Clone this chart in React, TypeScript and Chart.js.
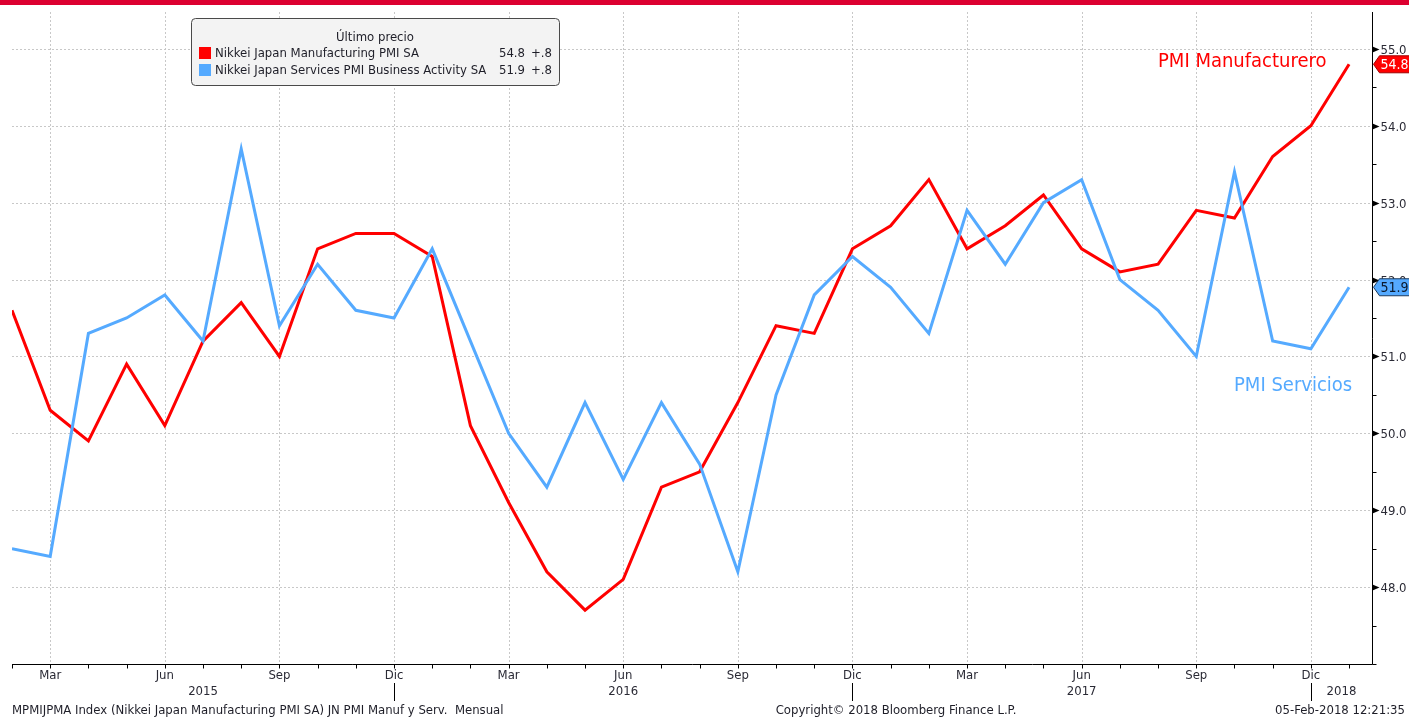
import { useEffect, useRef } from 'react';
import { Chart, registerables } from 'chart.js';

Chart.register(...registerables);

// ---------------- DATA ----------------
const categories = [
  'Feb 2015', 'Mar 2015', 'Abr 2015', 'May 2015', 'Jun 2015', 'Jul 2015', 'Ago 2015', 'Sep 2015', 'Oct 2015', 'Nov 2015', 'Dic 2015',
  'Ene 2016', 'Feb 2016', 'Mar 2016', 'Abr 2016', 'May 2016', 'Jun 2016', 'Jul 2016', 'Ago 2016', 'Sep 2016', 'Oct 2016', 'Nov 2016', 'Dic 2016',
  'Ene 2017', 'Feb 2017', 'Mar 2017', 'Abr 2017', 'May 2017', 'Jun 2017', 'Jul 2017', 'Ago 2017', 'Sep 2017', 'Oct 2017', 'Nov 2017', 'Dic 2017',
  'Ene 2018',
];

const manufacturing = [
  51.6, 50.3, 49.9, 50.9, 50.1, 51.2, 51.7, 51.0, 52.4, 52.6, 52.6,
  52.3, 50.1, 49.1, 48.2, 47.7, 48.1, 49.3, 49.5, 50.4, 51.4, 51.3, 52.4,
  52.7, 53.3, 52.4, 52.7, 53.1, 52.4, 52.1, 52.2, 52.9, 52.8, 53.6, 54.0,
  54.8,
];

const services = [
  48.5, 48.4, 51.3, 51.5, 51.8, 51.2, 53.7, 51.4, 52.2, 51.6, 51.5,
  52.4, 51.2, 50.0, 49.3, 50.4, 49.4, 50.4, 49.6, 48.2, 50.5, 51.8, 52.3,
  51.9, 51.3, 52.9, 52.2, 53.0, 53.3, 52.0, 51.6, 51.0, 53.4, 51.2, 51.1,
  51.9,
];

const yTicks = [48, 49, 50, 51, 52, 53, 54, 55];
const yMinorTicks = [47, 47.5, 48.5, 49.5, 50.5, 51.5, 52.5, 53.5, 54.5];
const xTickMonths = ['Mar', 'Jun', 'Sep', 'Dic'];
const yearSeparatorMonth = 'Dic';

const seriesNames = ['Nikkei Japan Manufacturing PMI SA', 'Nikkei Japan Services PMI Business Activity SA'];
const seriesChanges = ['+.8', '+.8'];
const legendTitle = 'Último precio';
const annotationManuf = 'PMI Manufacturero';
const annotationServ = 'PMI Servicios';
const footerLeft = 'MPMIJPMA Index (Nikkei Japan Manufacturing PMI SA) JN PMI Manuf y Serv.  Mensual';
const footerCenter = 'Copyright© 2018 Bloomberg Finance L.P.';
const footerRight = '05-Feb-2018 12:21:35';

// ---------------- STYLE ----------------
const RED = '#ff0000';
const BLUE = '#55aaff';
const FONT = '"DejaVu Sans Condensed", "Liberation Sans Narrow", "DejaVu Sans", sans-serif';
const TEXT = '#2a2a35';

function f(size: number) {
  return `${size}px ${FONT}`;
}

const bbgPlugin = {
  id: 'bbg',
  beforeDraw(chart: any) {
    const { ctx, width } = chart;
    ctx.save();
    ctx.fillStyle = '#ffffff';
    ctx.fillRect(0, 0, chart.width, chart.height);
    ctx.fillStyle = '#dc0030';
    ctx.fillRect(0, 0, width, 5);
    ctx.restore();
  },
  beforeDatasetsDraw(chart: any) {
    const { ctx, chartArea: a } = chart;
    const x = chart.scales.x;
    const y = chart.scales.y;
    ctx.save();
    ctx.strokeStyle = '#c8c8c8';
    ctx.lineWidth = 1;
    ctx.setLineDash([2, 2]);
    yTicks.forEach((v) => {
      const py = Math.round(y.getPixelForValue(v)) + 0.5;
      ctx.beginPath();
      ctx.moveTo(a.left, py);
      ctx.lineTo(a.right, py);
      ctx.stroke();
    });
    categories.forEach((c, i) => {
      if (!xTickMonths.includes(c.slice(0, 3))) return;
      const px = Math.round(x.getPixelForValue(i)) + 0.5;
      ctx.beginPath();
      ctx.moveTo(px, a.top);
      ctx.lineTo(px, a.bottom);
      ctx.stroke();
    });
    ctx.restore();
  },
  afterDraw(chart: any) {
    const { ctx, chartArea: a, width } = chart;
    const x = chart.scales.x;
    const y = chart.scales.y;
    ctx.save();
    ctx.setLineDash([]);
    ctx.strokeStyle = '#000';
    ctx.fillStyle = '#000';
    ctx.lineWidth = 1;

    // axis lines
    const ax = Math.round(a.right) + 0.5;
    const ay = Math.round(a.bottom) + 0.5;
    ctx.beginPath();
    ctx.moveTo(ax, a.top);
    ctx.lineTo(ax, ay);
    ctx.moveTo(a.left, ay);
    ctx.lineTo(ax, ay);
    ctx.stroke();

    // y minor ticks
    yMinorTicks.forEach((v) => {
      const py = Math.round(y.getPixelForValue(v)) + 0.5;
      ctx.beginPath();
      ctx.moveTo(ax, py);
      ctx.lineTo(ax + 4, py);
      ctx.stroke();
    });
    // y major ticks + labels
    ctx.font = f(13);
    ctx.textBaseline = 'middle';
    ctx.textAlign = 'left';
    yTicks.forEach((v) => {
      const py = Math.round(y.getPixelForValue(v)) + 0.5;
      ctx.fillStyle = '#000';
      ctx.beginPath();
      ctx.moveTo(ax, py - 3);
      ctx.lineTo(ax + 7, py);
      ctx.lineTo(ax, py + 3);
      ctx.closePath();
      ctx.fill();
      ctx.fillStyle = TEXT;
      ctx.fillText(v.toFixed(1), ax + 8, py + 1);
    });

    // x ticks (monthly)
    ctx.strokeStyle = '#000';
    categories.forEach((c, i) => {
      const px = Math.round(x.getPixelForValue(i)) + 0.5;
      ctx.beginPath();
      ctx.moveTo(px, ay);
      ctx.lineTo(px, ay + 4);
      ctx.stroke();
    });
    // x labels
    ctx.fillStyle = TEXT;
    ctx.textAlign = 'center';
    ctx.font = f(13);
    const seps: number[] = [];
    categories.forEach((c, i) => {
      const m = c.slice(0, 3);
      const px = x.getPixelForValue(i);
      if (xTickMonths.includes(m)) ctx.fillText(m, px, 676);
      if (m === yearSeparatorMonth) seps.push(i);
    });
    // year separators
    ctx.strokeStyle = '#000';
    seps.forEach((i) => {
      const px = Math.round(x.getPixelForValue(i)) + 0.5;
      ctx.beginPath();
      ctx.moveTo(px, 683);
      ctx.lineTo(px, 701);
      ctx.stroke();
    });
    // year labels centred between separators
    const bounds = [a.left, ...seps.map((i) => x.getPixelForValue(i)), a.right];
    const years: string[] = [];
    categories.forEach((c) => {
      const yr = c.slice(4);
      if (!years.includes(yr)) years.push(yr);
    });
    years.forEach((yr, k) => {
      if (k + 1 >= bounds.length) return;
      ctx.fillText(yr, (bounds[k] + bounds[k + 1]) / 2, 692);
    });

    // footer
    ctx.fillStyle = '#1e1e28';
    ctx.textAlign = 'left';
    ctx.fillText(footerLeft, 12, 711);
    ctx.textAlign = 'center';
    ctx.fillText(footerCenter, 896, 711);
    ctx.textAlign = 'right';
    ctx.fillText(footerRight, 1405, 711);

    // annotations
    ctx.font = f(20);
    ctx.textAlign = 'left';
    ctx.fillStyle = RED;
    ctx.fillText(annotationManuf, 1158, 62);
    ctx.fillStyle = BLUE;
    ctx.fillText(annotationServ, 1234, 386);

    // last value tags
    const tag = (val: number, fill: string, stroke: string, txt: string) => {
      const py = y.getPixelForValue(val);
      const x0 = ax + 1;
      ctx.beginPath();
      ctx.moveTo(x0, py);
      ctx.lineTo(x0 + 6, py - 8.5);
      ctx.lineTo(width + 2, py - 8.5);
      ctx.lineTo(width + 2, py + 8.5);
      ctx.lineTo(x0 + 6, py + 8.5);
      ctx.closePath();
      ctx.fillStyle = fill;
      ctx.fill();
      ctx.strokeStyle = stroke;
      ctx.stroke();
      ctx.fillStyle = txt;
      ctx.font = f(14);
      ctx.textAlign = 'left';
      ctx.fillText(val.toFixed(1), x0 + 7, py + 1);
    };
    tag(manufacturing[manufacturing.length - 1], RED, '#a00000', '#ffffff');
    tag(services[services.length - 1], BLUE, '#1c3a5c', '#0c1a2e');

    // legend box
    ctx.beginPath();
    ctx.roundRect(191.5, 18.5, 368, 67, 4);
    ctx.fillStyle = '#f3f3f3';
    ctx.fill();
    ctx.strokeStyle = '#4a4a4a';
    ctx.stroke();
    ctx.font = f(13);
    ctx.fillStyle = '#1e1e28';
    ctx.textAlign = 'center';
    ctx.fillText(legendTitle, 375, 38);
    const rows = [
      { name: seriesNames[0], color: RED, last: manufacturing[manufacturing.length - 1], chg: seriesChanges[0] },
      { name: seriesNames[1], color: BLUE, last: services[services.length - 1], chg: seriesChanges[1] },
    ];
    rows.forEach((r, k) => {
      const cy = 53 + k * 17;
      ctx.fillStyle = r.color;
      ctx.fillRect(199, cy - 6, 12, 12);
      ctx.fillStyle = '#1e1e28';
      ctx.textAlign = 'left';
      ctx.fillText(r.name, 215, cy + 1);
      ctx.textAlign = 'right';
      ctx.fillText(r.last.toFixed(1), 525, cy + 1);
      ctx.fillText(r.chg, 552, cy + 1);
    });

    ctx.restore();
  },
};

export default function App() {
  const ref = useRef<HTMLCanvasElement | null>(null);
  useEffect(() => {
    if (!ref.current) return;
    const chart = new Chart(ref.current, {
      type: 'line',
      data: {
        datasets: [
          {
            label: seriesNames[1],
            data: services.map((v, i) => ({ x: i, y: v })),
            borderColor: BLUE,
            borderWidth: 3,
            pointRadius: 0,
            tension: 0,
            order: 0,
          },
          {
            label: seriesNames[0],
            data: manufacturing.map((v, i) => ({ x: i, y: v })),
            borderColor: RED,
            borderWidth: 3,
            pointRadius: 0,
            tension: 0,
            order: 1,
          },
        ],
      },
      options: {
        animation: false,
        responsive: false,
        devicePixelRatio: 1,
        layout: { padding: { left: 12, right: 37, top: 12, bottom: 53 } },
        plugins: { legend: { display: false }, tooltip: { enabled: false } },
        scales: {
          x: { type: 'linear', min: 0, max: 35.6, display: false },
          y: { type: 'linear', min: 47, max: 55.48, display: false },
        },
      },
      plugins: [bbgPlugin],
    });
    return () => chart.destroy();
  }, []);
  return (
    <div style={{ position: 'absolute', left: 0, top: 0, width: 1409, height: 717, background: '#fff' }}>
      <canvas ref={ref} width={1409} height={717} style={{ display: 'block' }} />
    </div>
  );
}
